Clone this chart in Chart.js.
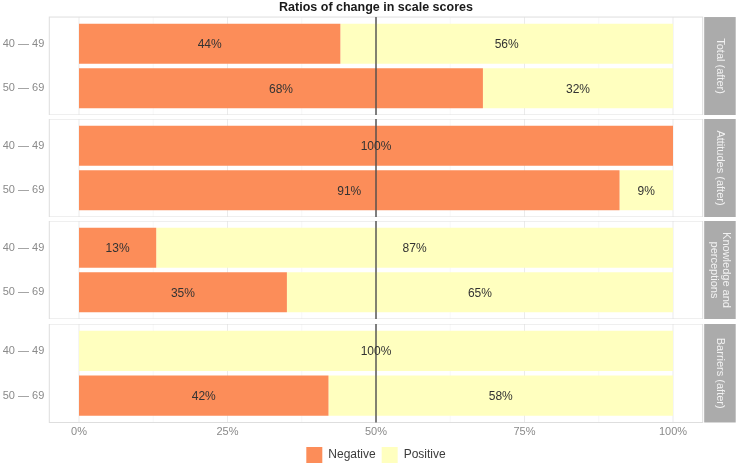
<!DOCTYPE html>
<html>
<head>
<meta charset="utf-8">
<script src="https://cdn.jsdelivr.net/npm/chart.js@4.4.1/dist/chart.umd.min.js"></script>
<style>
  html, body { margin: 0; padding: 0; background: #fff; }
  #wrap { position: relative; width: 739px; height: 466px; overflow: hidden; }
  .panel { position: absolute; left: 0; width: 739px; }
</style>
</head>
<body>
<div id="wrap">
  <div class="panel" style="top:0px;height:115px"><canvas id="c0"></canvas></div>
  <div class="panel" style="top:119px;height:98px"><canvas id="c1"></canvas></div>
  <div class="panel" style="top:221px;height:98px"><canvas id="c2"></canvas></div>
  <div class="panel" style="top:324px;height:149px"><canvas id="c3"></canvas></div>
</div>
<script>
// data
var ageGroups = ['40 — 49', '50 — 69'];
var scaleNames = ['Total (after)', 'Attitudes (after)', ['Knowledge and', 'perceptions'], 'Barriers (after)'];
var negative = [[44, 68], [100, 91], [13, 35], [0, 42]];
var positive = [[56, 32], [0, 9], [87, 65], [100, 58]];
var xTicks = [0, 25, 50, 75, 100];
var xMinor = [12.5, 37.5, 62.5, 87.5];
var midLine = 50;

Chart.defaults.font.family = '"Liberation Sans", Arial, sans-serif';

// panel background grid, border, 50% line, value labels and facet strip
var panelDecor = {
    id: 'panelDecor',
    beforeDatasetsDraw: function(chart) {
        var ctx = chart.ctx, a = chart.chartArea, x = chart.scales.x;
        var inset = (a.bottom - a.top) * 0.05;
        var top = a.top - inset, bottom = a.bottom + inset;
        ctx.save();
        ctx.lineWidth = 0.6;
        ctx.strokeStyle = '#f3f3f3';
        xMinor.forEach(function(v) {
            var px = x.getPixelForValue(v);
            ctx.beginPath(); ctx.moveTo(px, top); ctx.lineTo(px, bottom); ctx.stroke();
        });
        ctx.lineWidth = 1;
        ctx.strokeStyle = '#ebebeb';
        xTicks.forEach(function(v) {
            var px = x.getPixelForValue(v);
            ctx.beginPath(); ctx.moveTo(px, top); ctx.lineTo(px, bottom); ctx.stroke();
        });
        ctx.restore();
    },
    afterDatasetsDraw: function(chart, args, opts) {
        var ctx = chart.ctx, a = chart.chartArea, x = chart.scales.x;
        var inset = (a.bottom - a.top) * 0.05;
        var top = a.top - inset, bottom = a.bottom + inset;
        ctx.save();
        // border
        ctx.strokeStyle = '#dedede';
        ctx.lineWidth = 1;
        ctx.strokeRect(a.left, top, a.right - a.left, bottom - top);
        // 50% reference line
        var mx = x.getPixelForValue(midLine);
        ctx.strokeStyle = '#4d4d4d';
        ctx.lineWidth = 1.4;
        ctx.beginPath(); ctx.moveTo(mx, top); ctx.lineTo(mx, bottom); ctx.stroke();
        // value labels
        ctx.fillStyle = '#333333';
        ctx.font = '12px "Liberation Sans", Arial, sans-serif';
        ctx.textAlign = 'center';
        ctx.textBaseline = 'middle';
        chart.data.datasets.forEach(function(ds, i) {
            chart.getDatasetMeta(i).data.forEach(function(bar, j) {
                var v = ds.data[j];
                if (!v) return;
                var p = bar.getProps(['x', 'y', 'base'], true);
                ctx.fillText(v + '%', (p.x + p.base) / 2, p.y + 1);
            });
        });
        // strip
        var sx = a.right + 1.5, sw = 31.5;
        ctx.fillStyle = '#ababab';
        ctx.fillRect(sx, top, sw, bottom - top);
        ctx.translate(sx + sw / 2, (top + bottom) / 2);
        ctx.rotate(Math.PI / 2);
        ctx.fillStyle = '#f2f2f2';
        ctx.font = '11px "Liberation Sans", Arial, sans-serif';
        var lines = [].concat(opts.label);
        var lh = 12;
        lines.forEach(function(t, i) {
            ctx.fillText(t, 0, (i - (lines.length - 1) / 2) * lh);
        });
        ctx.restore();
    }
};

function makeChart(k) {
    var first = k === 0, last = k === scaleNames.length - 1;
    return new Chart(document.getElementById('c' + k), {
        type: 'bar',
        plugins: [panelDecor],
        data: {
            labels: ageGroups,
            datasets: [
                { label: 'Negative', data: negative[k], backgroundColor: '#fc8d59', borderWidth: 0 },
                { label: 'Positive', data: positive[k], backgroundColor: '#ffffbf', borderWidth: 0 }
            ]
        },
        options: {
            indexAxis: 'y',
            responsive: true,
            maintainAspectRatio: false,
            animation: false,
            layout: {
                padding: { top: first ? 0 : 4.45, bottom: last ? 0 : 4.45, left: 0, right: 36.3 }
            },
            datasets: { bar: { barPercentage: 0.9, categoryPercentage: 1 } },
            scales: {
                x: {
                    stacked: true,
                    min: -5,
                    max: 105,
                    display: last,
                    afterBuildTicks: function(s) {
                        s.ticks = xTicks.map(function(v) { return { value: v }; });
                    },
                    afterFit: function(s) {
                        s.height = last ? 23 : 0;
                        s.paddingLeft = 0; s.paddingRight = 0;
                    },
                    grid: { display: false, drawTicks: false },
                    border: { display: false },
                    ticks: {
                        padding: 7,
                        color: '#8a8a8a',
                        font: { size: 11 },
                        maxRotation: 0,
                        callback: function(v) { return v + '%'; }
                    }
                },
                y: {
                    stacked: true,
                    afterFit: function(s) {
                        s.width = 49.3;
                        s.paddingTop = 0; s.paddingBottom = 0;
                    },
                    grid: { display: false, drawTicks: false },
                    border: { display: false },
                    ticks: { padding: 5, color: '#8a8a8a', font: { size: 11 } }
                }
            },
            plugins: {
                title: {
                    display: first,
                    fullSize: false,
                    text: 'Ratios of change in scale scores',
                    color: '#1a1a1a',
                    font: { size: 12.5, weight: 'bold' },
                    padding: { top: 0.5, bottom: 6 }
                },
                legend: {
                    display: last,
                    position: 'bottom',
                    fullSize: false,
                    labels: {
                        boxWidth: 16,
                        boxHeight: 16,
                        padding: 6,
                        color: '#3c3c3c',
                        font: { size: 12 }
                    }
                },
                tooltip: { enabled: false },
                panelDecor: { label: scaleNames[k] }
            }
        }
    });
}

for (var k = 0; k < scaleNames.length; k++) makeChart(k);
</script>
</body>
</html>
